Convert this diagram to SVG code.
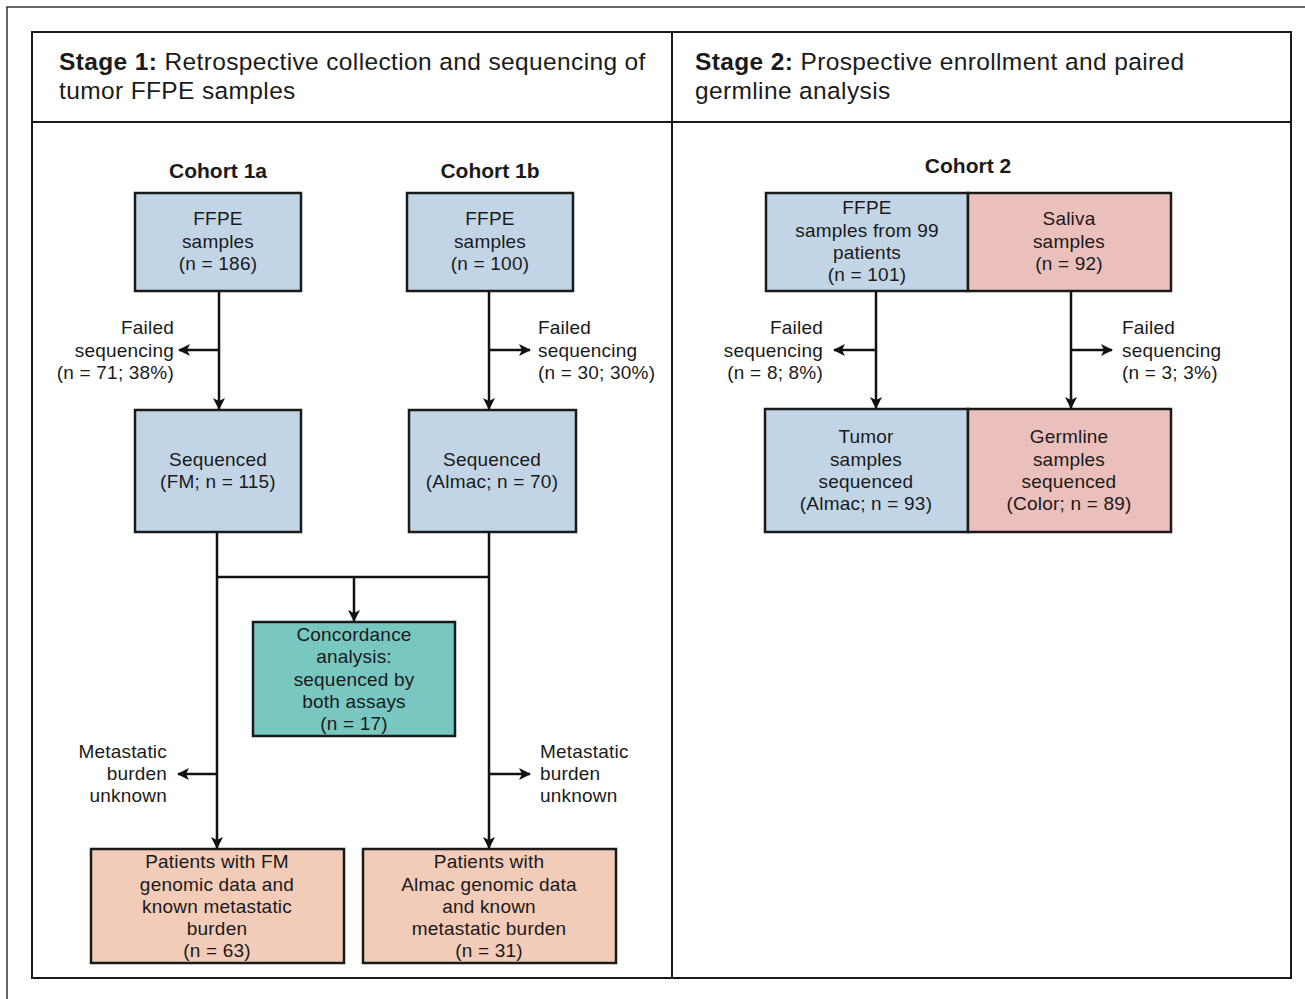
<svg xmlns="http://www.w3.org/2000/svg" width="1305" height="999" viewBox="0 0 1305 999">
<defs>
<marker id="ah" viewBox="0 0 12 12" refX="11" refY="6" markerWidth="12" markerHeight="12" markerUnits="userSpaceOnUse" orient="auto">
<path d="M0,0 L12,6 L0,12 L3,6 z" fill="#111"/>
</marker>
<style>
text{font-family:"Liberation Sans",Arial,sans-serif;fill:#1a1a1a}
.t{font-size:19px;letter-spacing:0.2px;text-anchor:middle}
.l{font-size:19px;letter-spacing:0.2px;text-anchor:start}
.r{font-size:19px;letter-spacing:0.2px;text-anchor:end}
.h{font-size:24.5px;letter-spacing:0.37px}
.c{font-size:21px;font-weight:bold;text-anchor:middle}
.frame{fill:none;stroke:#1a1a1a;stroke-width:2}
.box{stroke:#1a1a1a;stroke-width:2.5}
.blue{fill:#c2d5e6}
.pink{fill:#ebbfbc}
.peach{fill:#f2cbb9}
.teal{fill:#79c7c1}
.conn path{fill:none;stroke:#111;stroke-width:2.5}
</style>
</defs>
<rect width="1305" height="999" fill="#fff"/>
<g id="frames">
<path d="M7,999 L7,7 L1305,7" fill="none" stroke="#333" stroke-width="1.5"/>
<rect class="frame" x="32" y="32" width="1259" height="946"/>
<line class="frame" x1="32" y1="122" x2="1291" y2="122"/>
<line class="frame" x1="672" y1="32" x2="672" y2="978"/>
</g>
<g id="header1"><text class="h" x="59" y="70"><tspan font-weight="bold">Stage 1:</tspan> Retrospective collection and sequencing of</text><text class="h" x="59" y="99">tumor FFPE samples</text></g>
<g id="header2"><text class="h" x="695" y="70"><tspan font-weight="bold">Stage 2:</tspan> Prospective enrollment and paired</text><text class="h" x="695" y="99">germline analysis</text></g>
<g id="cohort1a-title"><text class="c" x="218" y="178">Cohort 1a</text></g>
<g id="cohort1b-title"><text class="c" x="490" y="178">Cohort 1b</text></g>
<g id="cohort2-title"><text class="c" x="968" y="173">Cohort 2</text></g>

<g class="conn" id="connectors">
<path d="M219,291 L219,409" marker-end="url(#ah)"/>
<path d="M219,350 L179,350" marker-end="url(#ah)"/>
<path d="M489,291 L489,409" marker-end="url(#ah)"/>
<path d="M489,350 L530,350" marker-end="url(#ah)"/>
<path d="M217,532 L217,848" marker-end="url(#ah)"/>
<path d="M489,532 L489,848" marker-end="url(#ah)"/>
<path d="M217,577 L489,577"/>
<path d="M354,577 L354,621" marker-end="url(#ah)"/>
<path d="M217,774 L178,774" marker-end="url(#ah)"/>
<path d="M489,774 L530,774" marker-end="url(#ah)"/>
<path d="M876,291 L876,408" marker-end="url(#ah)"/>
<path d="M876,350 L834,350" marker-end="url(#ah)"/>
<path d="M1071,291 L1071,408" marker-end="url(#ah)"/>
<path d="M1071,350 L1112,350" marker-end="url(#ah)"/>
</g>

<g id="ffpe1a"><rect class="box blue" x="135" y="193" width="166" height="98"/><text class="t" x="218" y="225">FFPE</text><text class="t" x="218" y="248">samples</text><text class="t" x="218" y="270">(n = 186)</text></g>
<g id="ffpe1b"><rect class="box blue" x="407" y="193" width="166" height="98"/><text class="t" x="490" y="225">FFPE</text><text class="t" x="490" y="248">samples</text><text class="t" x="490" y="270">(n = 100)</text></g>
<g id="fail1a"><text class="r" x="174" y="334">Failed</text><text class="r" x="174" y="357">sequencing</text><text class="r" x="174" y="379">(n = 71; 38%)</text></g>
<g id="fail1b"><text class="l" x="538" y="334">Failed</text><text class="l" x="538" y="357">sequencing</text><text class="l" x="538" y="379">(n = 30; 30%)</text></g>
<g id="seq1a"><rect class="box blue" x="135" y="410" width="166" height="122"/><text class="t" x="218" y="466">Sequenced</text><text class="t" x="218" y="488">(FM; n = 115)</text></g>
<g id="seq1b"><rect class="box blue" x="409" y="410" width="167" height="122"/><text class="t" x="492" y="466">Sequenced</text><text class="t" x="492" y="488">(Almac; n = 70)</text></g>
<g id="concordance"><rect class="box teal" x="253" y="622" width="202" height="114"/><text class="t" x="354" y="641">Concordance</text><text class="t" x="354" y="663">analysis:</text><text class="t" x="354" y="686">sequenced by</text><text class="t" x="354" y="708">both assays</text><text class="t" x="354" y="730">(n = 17)</text></g>
<g id="meta1a"><text class="r" x="167" y="758">Metastatic</text><text class="r" x="167" y="780">burden</text><text class="r" x="167" y="802">unknown</text></g>
<g id="meta1b"><text class="l" x="540" y="758">Metastatic</text><text class="l" x="540" y="780">burden</text><text class="l" x="540" y="802">unknown</text></g>
<g id="patientsFM"><rect class="box peach" x="91" y="849" width="253" height="114"/><text class="t" x="217" y="868">Patients with FM</text><text class="t" x="217" y="891">genomic data and</text><text class="t" x="217" y="913">known metastatic</text><text class="t" x="217" y="935">burden</text><text class="t" x="217" y="957">(n = 63)</text></g>
<g id="patientsAlmac"><rect class="box peach" x="363" y="849" width="253" height="114"/><text class="t" x="489" y="868">Patients with</text><text class="t" x="489" y="891">Almac genomic data</text><text class="t" x="489" y="913">and known</text><text class="t" x="489" y="935">metastatic burden</text><text class="t" x="489" y="957">(n = 31)</text></g>

<g id="ffpe2"><rect class="box blue" x="766" y="193" width="202" height="98"/><text class="t" x="867" y="214">FFPE</text><text class="t" x="867" y="237">samples from 99</text><text class="t" x="867" y="259">patients</text><text class="t" x="867" y="281">(n = 101)</text></g>
<g id="saliva"><rect class="box pink" x="968" y="193" width="203" height="98"/><text class="t" x="1069" y="225">Saliva</text><text class="t" x="1069" y="248">samples</text><text class="t" x="1069" y="270">(n = 92)</text></g>
<g id="fail2a"><text class="r" x="823" y="334">Failed</text><text class="r" x="823" y="357">sequencing</text><text class="r" x="823" y="379">(n = 8; 8%)</text></g>
<g id="fail2b"><text class="l" x="1122" y="334">Failed</text><text class="l" x="1122" y="357">sequencing</text><text class="l" x="1122" y="379">(n = 3; 3%)</text></g>
<g id="tumor"><rect class="box blue" x="765" y="409" width="203" height="123"/><text class="t" x="866" y="443">Tumor</text><text class="t" x="866" y="466">samples</text><text class="t" x="866" y="488">sequenced</text><text class="t" x="866" y="510">(Almac; n = 93)</text></g>
<g id="germline"><rect class="box pink" x="968" y="409" width="203" height="123"/><text class="t" x="1069" y="443">Germline</text><text class="t" x="1069" y="466">samples</text><text class="t" x="1069" y="488">sequenced</text><text class="t" x="1069" y="510">(Color; n = 89)</text></g>
</svg>
